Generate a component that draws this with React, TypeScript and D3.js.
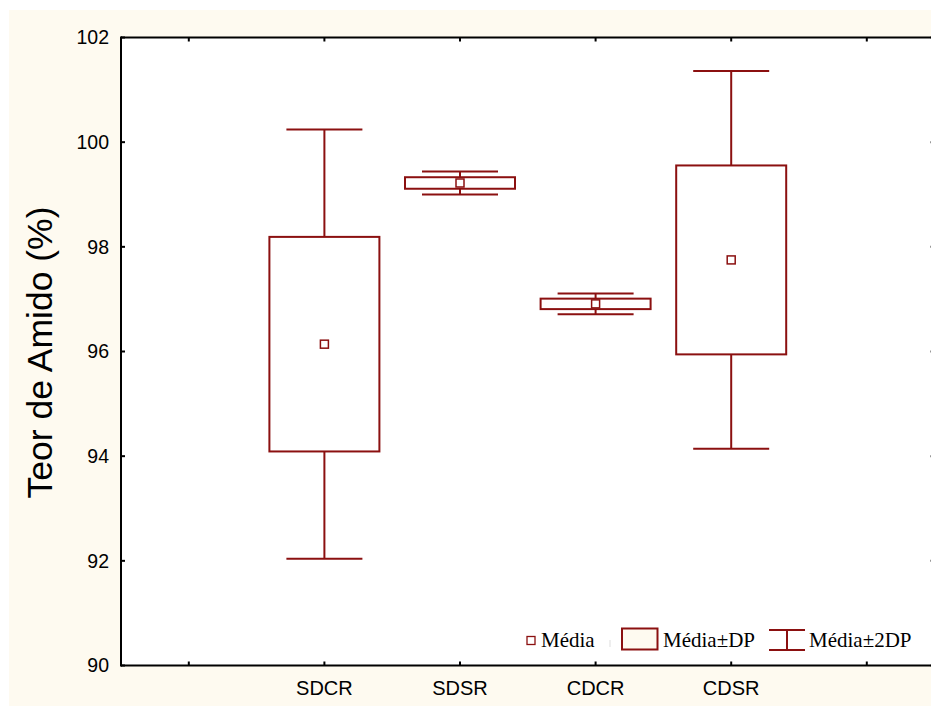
import React from "react";
import * as d3 from "d3";

const categories = ["", "SDCR", "SDSR", "CDCR", "CDSR", ""];
const groups = ["SDCR", "SDSR", "CDCR", "CDSR"];
const means = [96.14, 99.22, 96.91, 97.75];
const sds = [2.05, 0.11, 0.1, 1.805];
const yTicks = [90, 92, 94, 96, 98, 100, 102];
const yTitle = "Teor de Amido (%)";
const legendLabels = ["Média", "Média±DP", "Média±2DP"];

const W = 931;
const H = 706;
const plotL = 121;
const plotT = 37.5;
const plotB = 665.5;
const step = 135.6;
const plotR = plotL + step * categories.length;
const red = "#8B1010";
const cream = "#FEFAF0";

export default function App() {
  const x = d3
    .scaleLinear()
    .domain([-0.5, categories.length - 0.5])
    .range([plotL, plotR]);
  const y = d3.scaleLinear().domain([90, 102]).range([plotB, plotT]);
  const boxW = 110;
  const capW = 76;
  const tick = 4;
  const sans = "'Liberation Sans', Arial, sans-serif";
  const serif = "'Liberation Serif', 'Times New Roman', serif";

  return (
    <svg
      width={W}
      height={H}
      style={{ position: "absolute", left: 0, top: 0 }}
    >
      <rect x={0} y={0} width={W} height={H} fill="#ffffff" />
      <rect x={9} y={10} width={W - 9} height={H - 10} fill={cream} />
      <rect x={plotL} y={plotT} width={plotR - plotL} height={plotB - plotT} fill="#ffffff" />

      {groups.map((g, i) => {
        const cx = x(categories.indexOf(g));
        const m = means[i];
        const s = sds[i];
        return (
          <g key={g} stroke={red} fill="none" strokeWidth={2}>
            <line x1={cx} x2={cx} y1={y(m + 2 * s)} y2={y(m + s)} />
            <line x1={cx} x2={cx} y1={y(m - s)} y2={y(m - 2 * s)} />
            <line x1={cx - capW / 2} x2={cx + capW / 2} y1={y(m + 2 * s)} y2={y(m + 2 * s)} />
            <line x1={cx - capW / 2} x2={cx + capW / 2} y1={y(m - 2 * s)} y2={y(m - 2 * s)} />
            <rect x={cx - boxW / 2} y={y(m + s)} width={boxW} height={y(m - s) - y(m + s)} fill="#ffffff" />
            <rect x={cx - 4} y={y(m) - 4} width={8} height={8} fill="#ffffff" strokeWidth={1.5} />
          </g>
        );
      })}

      {/* axes frame */}
      <g stroke="#000" strokeWidth={2} fill="none">
        <line x1={plotL} x2={plotR} y1={plotT} y2={plotT} />
        <line x1={plotL} x2={plotR} y1={plotB} y2={plotB} />
        <line x1={plotL} x2={plotL} y1={plotT - 1} y2={plotB + 1} />
        <line x1={plotR} x2={plotR} y1={plotT - 1} y2={plotB + 1} />
        {yTicks.map((t) => (
          <g key={"yt" + t}>
            <line x1={plotL} x2={plotL + tick} y1={y(t)} y2={y(t)} />
            <line x1={plotR} x2={plotR - tick} y1={y(t)} y2={y(t)} />
          </g>
        ))}
        {categories.map((c, i) => (
          <g key={"xt" + i}>
            <line x1={x(i)} x2={x(i)} y1={plotB} y2={plotB - tick} />
            <line x1={x(i)} x2={x(i)} y1={plotT} y2={plotT + tick} />
          </g>
        ))}
      </g>

      {/* y tick labels */}
      {yTicks.map((t) => (
        <text
          key={"yl" + t}
          x={109}
          y={y(t)}
          dy="0.35em"
          textAnchor="end"
          fontFamily={sans}
          fontSize={19.5}
          fill="#000"
        >
          {t}
        </text>
      ))}

      {/* x labels */}
      {categories.map((c, i) =>
        c ? (
          <text
            key={"xl" + i}
            x={x(i)}
            y={695}
            textAnchor="middle"
            fontFamily={sans}
            fontSize={20}
            fill="#000"
          >
            {c}
          </text>
        ) : null
      )}

      {/* y title */}
      <text
        transform={`translate(52, 352.5) rotate(-90)`}
        textAnchor="middle"
        fontFamily={sans}
        fontSize={35.5}
        fill="#000"
      >
        {yTitle}
      </text>

      {/* legend */}
      <g>
        <rect x={527} y={636.5} width={8} height={8} fill="#ffffff" stroke={red} strokeWidth={1.3} />
        <text x={541} y={647} fontFamily={serif} fontSize={21} fill="#000">
          {legendLabels[0]}
        </text>
        <line x1={610} x2={610} y1={640} y2={647} stroke="#ddd" strokeWidth={1} />
        <rect x={622} y={628.5} width={35.5} height={21} fill={cream} stroke={red} strokeWidth={2} />
        <text x={663} y={647} fontFamily={serif} fontSize={21} fill="#000">
          {legendLabels[1]}
        </text>
        <g stroke={red} strokeWidth={2}>
          <line x1={769} x2={805} y1={630} y2={630} />
          <line x1={769} x2={805} y1={650} y2={650} />
          <line x1={787} x2={787} y1={630} y2={650} />
        </g>
        <text x={809} y={647} fontFamily={serif} fontSize={21} fill="#000">
          {legendLabels[2]}
        </text>
      </g>
    </svg>
  );
}
